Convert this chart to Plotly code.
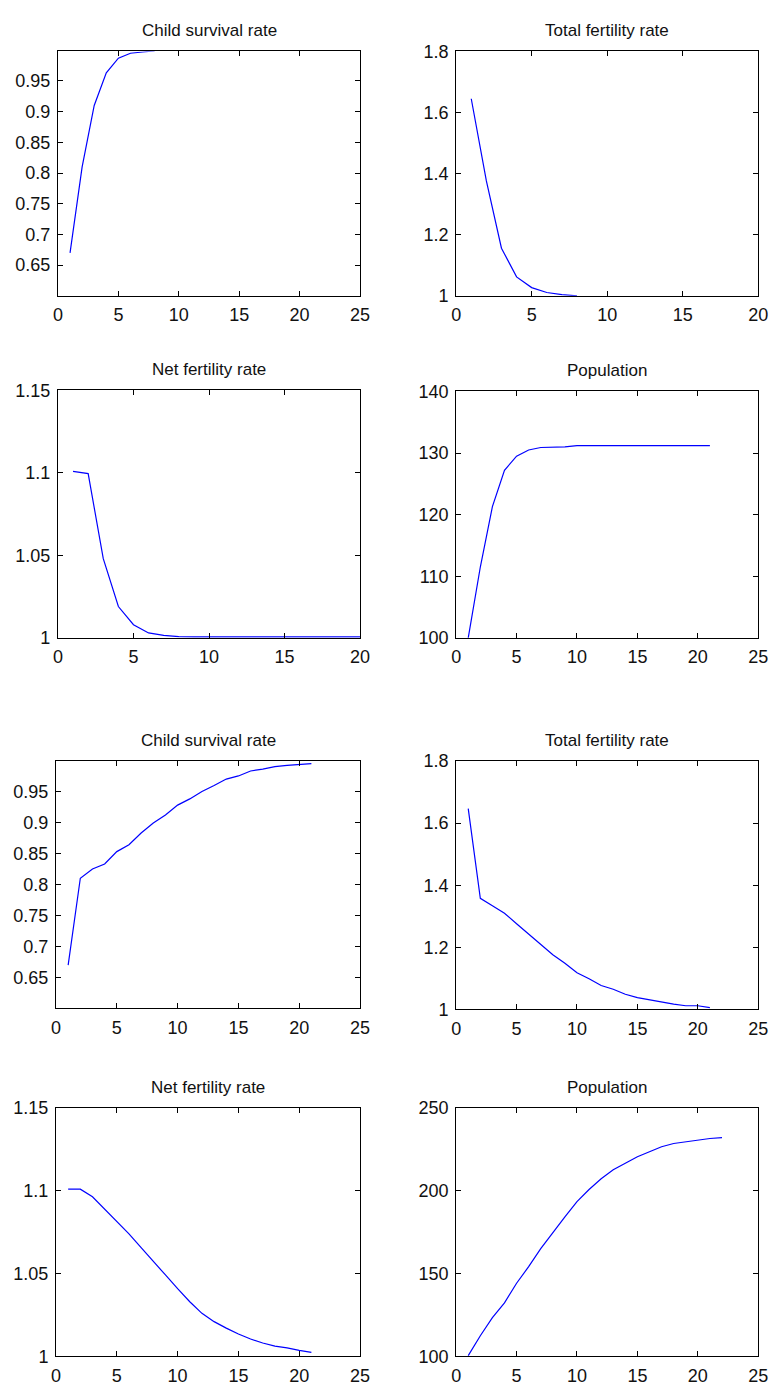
import plotly.graph_objects as go

W, H = 780, 1395

# ---------------- data ----------------
titles = ["Child survival rate", "Total fertility rate", "Net fertility rate", "Population",
          "Child survival rate", "Total fertility rate", "Net fertility rate", "Population"]

x_csr1 = [1, 2, 3, 4, 5, 6, 7, 8]
y_csr1 = [0.67, 0.81, 0.91, 0.963, 0.987, 0.995, 0.997, 0.999]

x_tfr1 = [1, 2, 3, 4, 5, 6, 7, 8]
y_tfr1 = [1.645, 1.376, 1.156, 1.062, 1.027, 1.011, 1.004, 1.0]

x_nfr1 = list(range(1, 22))
y_nfr1 = [1.101, 1.0996, 1.048, 1.019, 1.008, 1.003, 1.0015, 1.0008, 1.0006, 1.0006,
          1.0006, 1.0006, 1.0006, 1.0006, 1.0006, 1.0006, 1.0006, 1.0006, 1.0006, 1.0006, 1.0006]

x_pop1 = list(range(1, 22))
y_pop1 = [100, 111.5, 121.3, 127.2, 129.5, 130.5, 130.9, 130.95, 131.0, 131.2,
          131.2, 131.2, 131.2, 131.2, 131.2, 131.2, 131.2, 131.2, 131.2, 131.2, 131.2]

x_csr2 = list(range(1, 22))
y_csr2 = [0.670, 0.810, 0.825, 0.833, 0.853, 0.864, 0.883, 0.899, 0.912, 0.928,
          0.938, 0.950, 0.9595, 0.970, 0.975, 0.983, 0.986, 0.990, 0.992, 0.994, 0.995]

x_tfr2 = list(range(1, 22))
y_tfr2 = [1.647, 1.358, 1.334, 1.310, 1.276, 1.242, 1.207, 1.176, 1.149, 1.118,
          1.099, 1.077, 1.065, 1.049, 1.038, 1.031, 1.022, 1.017, 1.012, 1.012, 1.006]

x_nfr2 = list(range(1, 22))
y_nfr2 = [1.101, 1.101, 1.0964, 1.0889, 1.0815, 1.074, 1.0657, 1.0571, 1.0492, 1.0409,
          1.033, 1.026, 1.021, 1.0171, 1.0135, 1.0105, 1.0081, 1.0062, 1.0052, 1.0036, 1.0024]

x_pop2 = list(range(1, 23))
y_pop2 = [100.5, 112.5, 123.4, 132.3, 144.2, 154.2, 165.1, 175.0, 184.3, 193.5,
          200.8, 207.3, 212.7, 216.7, 220.6, 223.6, 226.6, 228.6, 229.6, 230.6, 231.6, 232.1]

# tick labels
x_ticks_25 = [0, 5, 10, 15, 20, 25]
x_ticks_20 = [0, 5, 10, 15, 20]
y_ticks_csr = [0.65, 0.7, 0.75, 0.8, 0.85, 0.9, 0.95]
y_ticklabels_csr = ["0.65", "0.7", "0.75", "0.8", "0.85", "0.9", "0.95"]
y_ticks_tfr = [1, 1.2, 1.4, 1.6, 1.8]
y_ticklabels_tfr = ["1", "1.2", "1.4", "1.6", "1.8"]
y_ticks_nfr = [1, 1.05, 1.1, 1.15]
y_ticklabels_nfr = ["1", "1.05", "1.1", "1.15"]
y_ticks_pop1 = [100, 110, 120, 130, 140]
y_ticks_pop2 = [100, 150, 200, 250]

# ---------------- layout helpers ----------------
boxes = [
    (54, 362, 42, 290), (460, 768, 42, 290),
    (54, 362, 386, 637), (460, 768, 387, 637),
    (52, 362, 762, 1013), (460, 768, 762, 1014),
    (52, 362, 1114, 1366), (460, 768, 1114, 1366),
]

panels = [
    (x_csr1, y_csr1, [0, 25], [0.6, 0.998], x_ticks_25, y_ticks_csr, y_ticklabels_csr),
    (x_tfr1, y_tfr1, [0, 20], [1, 1.8], x_ticks_20, y_ticks_tfr, y_ticklabels_tfr),
    (x_nfr1, y_nfr1, [0, 20], [1, 1.15], x_ticks_20, y_ticks_nfr, y_ticklabels_nfr),
    (x_pop1, y_pop1, [0, 25], [100, 140], x_ticks_25, y_ticks_pop1, [str(v) for v in y_ticks_pop1]),
    (x_csr2, y_csr2, [0, 25], [0.6, 0.999], x_ticks_25, y_ticks_csr, y_ticklabels_csr),
    (x_tfr2, y_tfr2, [0, 25], [1, 1.8], x_ticks_25, y_ticks_tfr, y_ticklabels_tfr),
    (x_nfr2, y_nfr2, [0, 25], [1, 1.15], x_ticks_25, y_ticks_nfr, y_ticklabels_nfr),
    (x_pop2, y_pop2, [0, 25], [100, 250], x_ticks_25, y_ticks_pop2, [str(v) for v in y_ticks_pop2]),
]

FONT = "Liberation Sans, Arial, sans-serif"
fig = go.Figure()
layout = dict(
    width=W, height=H, margin=dict(l=0, r=0, t=0, b=0),
    paper_bgcolor="white", plot_bgcolor="white", showlegend=False,
    font=dict(family=FONT, size=18, color="#111"),
)
annotations = []
for i, ((xs, ys, xr, yr, xt, yt, ytl), (l, r, t, b), title) in enumerate(zip(panels, boxes, titles)):
    n = "" if i == 0 else str(i + 1)
    fig.add_trace(go.Scatter(x=xs, y=ys, mode="lines",
                             line=dict(color="#0000ff", width=1.2),
                             xaxis="x" + n, yaxis="y" + n, hoverinfo="skip"))
    common = dict(showgrid=False, zeroline=False, showline=True, linecolor="black",
                  linewidth=1, mirror="allticks", ticks="inside", ticklen=5,
                  tickcolor="black", tickwidth=1, tickfont=dict(family=FONT, size=18, color="#111"))
    layout["xaxis" + n] = dict(domain=[l / W, r / W], range=xr, anchor="y" + n,
                               tickvals=xt, ticktext=[str(v) for v in xt],
                               ticklabelstandoff=3, **common)
    layout["yaxis" + n] = dict(domain=[1 - b / H, 1 - t / H], range=yr, anchor="x" + n,
                               tickvals=yt, ticktext=ytl, ticklabelstandoff=3, **common)
    annotations.append(dict(text=title, xref="paper", yref="paper",
                            x=(l + r) / 2 / W, y=1 - (t - 21) / H,
                            xanchor="center", yanchor="middle", showarrow=False,
                            font=dict(family=FONT, size=17, color="#111")))
layout["annotations"] = annotations
fig.update_layout(**layout)
fig.write_html("out.html", config={"displayModeBar": False},
               post_script="document.body.style.margin='0px';")
